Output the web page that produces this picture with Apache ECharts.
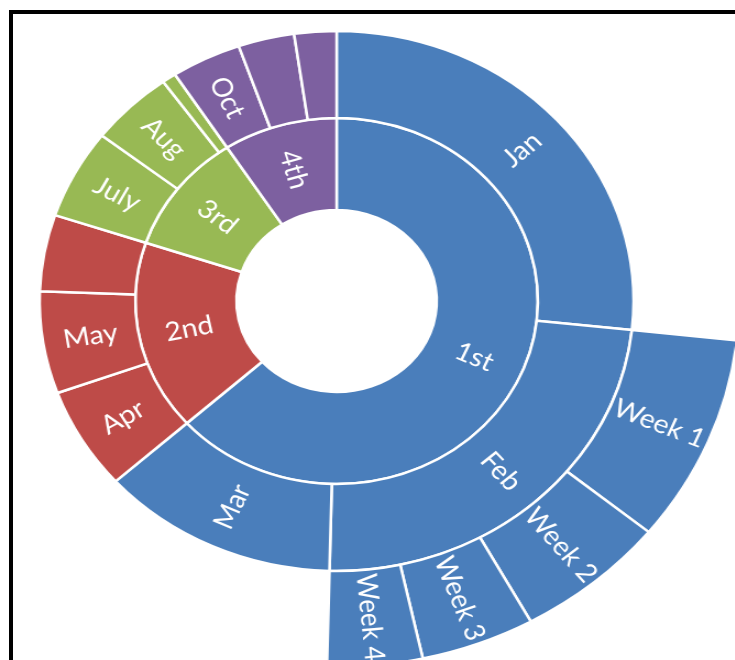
<!DOCTYPE html>
<html>
<head>
<meta charset="utf-8">
<title>Sunburst</title>
<script src="https://cdn.jsdelivr.net/npm/echarts@6/dist/echarts.min.js"></script>
<style>
  html, body { margin: 0; padding: 0; background: #fff; overflow: hidden; }
  #wrap { position: relative; width: 735px; height: 660px; overflow: hidden; }
  /* the source picture is stretched sideways a bit, so the chart is too */
  #main { position: absolute; left: 0; top: 0; width: 668px; height: 660px;
          transform: scaleX(1.1); transform-origin: 0 0; }
  #frame { position: absolute; left: 9px; top: 10px; right: -10px; bottom: -10px;
           border-left: 4px solid #000; border-top: 4px solid #000; pointer-events: none; }
</style>
</head>
<body>
<div id="wrap">
  <div id="main"></div>
  <div id="frame"></div>
</div>
<script>
// data
var quarters = ['1st', '2nd', '3rd', '4th'];
var months = [
    ['Jan', 'Feb', 'Mar'],
    ['Apr', 'May', 'Jun'],
    ['July', 'Aug', 'Sep'],
    ['Oct', 'Nov', 'Dec']
];
// Feb is split into weeks, so its own value comes from the weeks
var monthSales = [
    [3.5, null, 1.7],
    [0.8, 0.8, 0.6],
    [0.7, 0.6, 0.1],
    [0.5, 0.4, 0.3]
];
var febWeeks = ['Week 1', 'Week 2', 'Week 3', 'Week 4'];
var febWeekSales = [1.2, 0.8, 0.6, 0.5];
// slices too thin for their label in the original
var noLabel = ['Jun', 'Sep', 'Nov', 'Dec'];

var colors = ['#4a7ebb', '#be4b48', '#98b954', '#7d60a0'];

function buildTree() {
    var tree = [];
    for (var q = 0; q < quarters.length; q++) {
        var fill = { color: colors[q] };
        var children = [];
        for (var m = 0; m < months[q].length; m++) {
            var name = months[q][m];
            var node = { name: name, itemStyle: fill };
            if (name === 'Feb') {
                node.children = [];
                for (var w = 0; w < febWeeks.length; w++) {
                    node.children.push({ name: febWeeks[w], value: febWeekSales[w], itemStyle: fill });
                }
            } else {
                node.value = monthSales[q][m];
            }
            if (noLabel.indexOf(name) >= 0) {
                node.label = { show: false };
            }
            children.push(node);
        }
        tree.push({ name: quarters[q], itemStyle: fill, children: children });
    }
    return tree;
}

var myChart = echarts.init(document.getElementById('main'), null, { renderer: 'canvas' });
myChart.setOption({
    animation: false,
    color: colors,
    series: [{
        type: 'sunburst',
        center: [306, 301],
        sort: null,
        nodeClick: false,
        startAngle: 90,
        data: buildTree(),
        itemStyle: {
            borderColor: '#fff',
            borderWidth: 2.5,
            opacity: 1
        },
        label: {
            rotate: 'radial',
            color: '#fff',
            fontFamily: 'Lato',
            fontSize: 26
        },
        emphasis: { disabled: true },
        levels: [
            {},
            { r0: 91, r: 183 },
            { r0: 183, r: 270 },
            { r0: 270, r: 366 }
        ]
    }]
});
</script>
</body>
</html>
